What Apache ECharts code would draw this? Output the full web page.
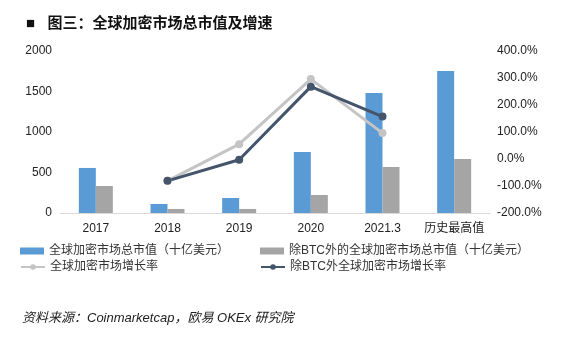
<!DOCTYPE html>
<html><head><meta charset="utf-8">
<script src="https://cdn.jsdelivr.net/npm/echarts@6/dist/echarts.min.js"></script>
<style>html,body{margin:0;padding:0;background:#fff}#c{width:573px;height:345px}</style>
</head><body><div id="c"></div>
<script>
const categories = ['2017','2018','2019','2020','2021.3','历史最高值'];
const totalCap = [556, 111, 185, 753, 1482, 1753];
const exBtcCap = [333, 50, 50, 222, 568, 667];
const totalGrowth = [null, -81, 55, 296, 96, null];
const exBtcGrowth = [null, -81, -3, 268, 157, null];
const leftTicks = [0, 500, 1000, 1500, 2000];
const rightTicks = [-200, -100, 0, 100, 200, 300, 400];
const seriesNames = ['全球加密市场总市值（十亿美元）','除BTC外的全球加密市场总市值（十亿美元）','全球加密市场增长率','除BTC外全球加密市场增长率'];

const font = '"Liberation Sans","Noto Sans CJK SC",sans-serif';
const chart = echarts.init(document.getElementById('c'));
const legendBase = {itemWidth:24, itemHeight:7, itemGap:4, textStyle:{fontSize:12,color:'#333',fontFamily:font}};
chart.setOption({
  animation:false,
  title:{text:'■   图三：全球加密市场总市值及增速', left:21, top:11,
    textStyle:{fontSize:15,fontWeight:'bold',color:'#111',fontFamily:font}},
  grid:{left:60,right:83,top:51,bottom:132},
  legend:[
    Object.assign({left:15,top:240,icon:'rect',data:[seriesNames[0]]},legendBase),
    Object.assign({left:255,top:240,icon:'rect',data:[seriesNames[1]]},legendBase),
    Object.assign({left:15,top:256,data:[seriesNames[2]]},legendBase),
    Object.assign({left:255,top:256,data:[seriesNames[3]]},legendBase)
  ],
  xAxis:{type:'category',data:categories,
    axisLine:{lineStyle:{color:'#d9d9d9',width:1}},axisTick:{show:false},
    axisLabel:{fontSize:12,color:'#222',fontFamily:font,margin:10,interval:0}},
  yAxis:[
    {type:'value',min:leftTicks[0],max:leftTicks[leftTicks.length-1],interval:500,
     splitLine:{show:false},axisLine:{show:false},axisTick:{show:false},
     axisLabel:{fontSize:12,color:'#222',fontFamily:font,margin:8,formatter:v=>String(v)}},
    {type:'value',min:rightTicks[0],max:rightTicks[rightTicks.length-1],interval:100,
     splitLine:{show:false},axisLine:{show:false},axisTick:{show:false},
     axisLabel:{fontSize:12,color:'#222',fontFamily:font,margin:7,formatter:v=>v.toFixed(1)+'%'}}
  ],
  series:[
    {name:seriesNames[0],type:'bar',data:totalCap,barWidth:17,barGap:'0%',itemStyle:{color:'#5b9bd5'}},
    {name:seriesNames[1],type:'bar',data:exBtcCap,barWidth:17,barGap:'0%',itemStyle:{color:'#a5a5a5'}},
    {name:seriesNames[2],type:'line',yAxisIndex:1,data:totalGrowth,symbol:'circle',symbolSize:8,
     lineStyle:{color:'#c4c4c4',width:3},itemStyle:{color:'#c4c4c4'}},
    {name:seriesNames[3],type:'line',yAxisIndex:1,data:exBtcGrowth,symbol:'circle',symbolSize:8,
     lineStyle:{color:'#44546a',width:3},itemStyle:{color:'#44546a'}}
  ],
  graphic:[
    {type:'text',left:22,top:312,style:{text:'资料来源：Coinmarketcap，欧易 OKEx 研究院',
      font:'italic 13px '+font,fill:'#222'}}
  ]
});
</script></body></html>
